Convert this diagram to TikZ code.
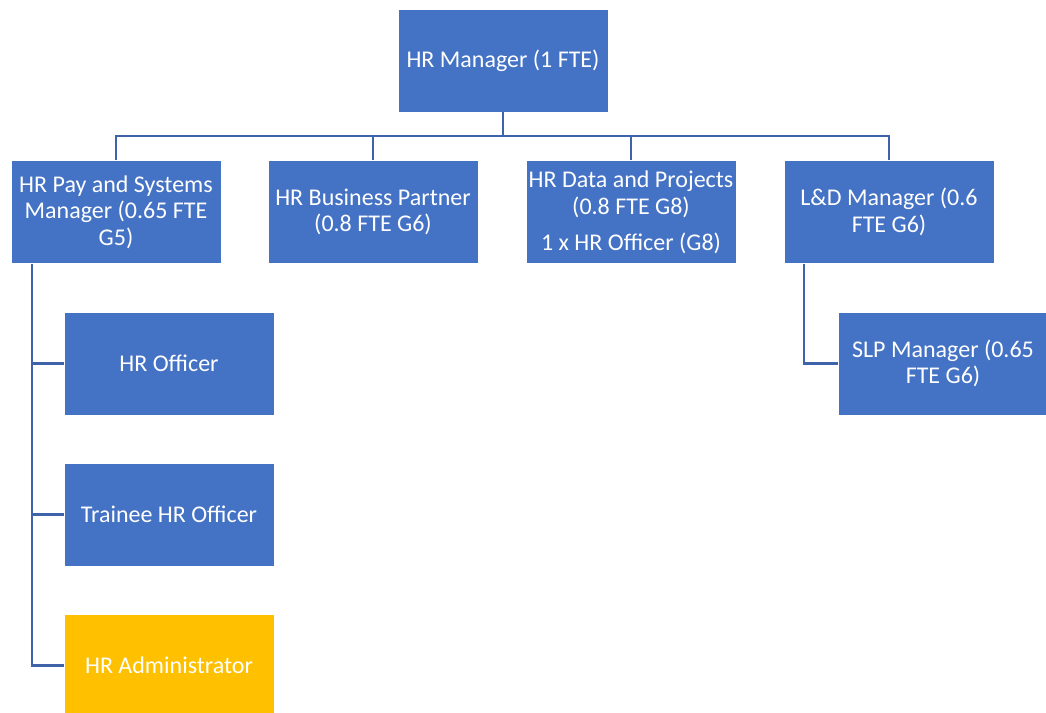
\documentclass[tikz,border=0pt]{standalone}
\usepackage{fontspec}
\setmainfont{Carlito}
\definecolor{boxblue}{HTML}{4472C4}
\definecolor{linkblue}{HTML}{3E63AB}
\definecolor{boxgold}{HTML}{FFC000}

\begin{document}
\begin{tikzpicture}[x=0.75pt,y=-0.75pt,
      post/.style={draw=white,line width=0.4pt,fill=boxblue,text=white,align=center,
        minimum width=157.5pt,minimum height=77.25pt,inner sep=0pt,
        font=\fontsize{18}{20}\selectfont},
      vacant/.style={post,fill=boxgold},
      link/.style={draw=linkblue,line width=2.1pt}
      ]
      \useasboundingbox (0,0) rectangle (1046,713);

      % top of the tree
      \node[post] (hrm) at (503,60.5) {HR Manager (1 FTE)};

      % second row
      \node[post] (pay) at (116,212) {HR Pay and Systems\\Manager (0.65 FTE\\G5)};
      \node[post] (bp) at (373,212) {HR Business Partner\\(0.8 FTE G6)};
      \node[post] (data) at (631,212) {HR Data and Projects\\(0.8 FTE G8)\\[7pt]1 x HR Officer (G8)};
      \node[post] (ld) at (889,212) {L\&D Manager (0.6\\FTE G6)};

      % under pay and systems
      \node[post] (off) at (169,363.5) {HR Officer};
      \node[post] (trainee) at (169,514.5) {Trainee HR Officer};
      \node[vacant] (admin) at (169,665.5) {HR Administrator};

      % under L&D
      \node[post] (slp) at (943,363.5) {SLP Manager (0.65\\FTE G6)};

      \coordinate (bus) at (503,136);
      \coordinate (payleg) at (32,264);
      \coordinate (ldleg) at (804,264);

      \draw[link] (hrm.south) -- (bus) -| (pay.north);
      \draw[link] (bus) -| (bp.north);
      \draw[link] (bus) -| (data.north);
      \draw[link] (bus) -| (ld.north);

      \draw[link] (payleg) |- (off.west);
      \draw[link] (payleg) |- (trainee.west);
      \draw[link] (payleg) |- (admin.west);
      \draw[link] (ldleg) |- (slp.west);
    \end{tikzpicture}
\end{document}
